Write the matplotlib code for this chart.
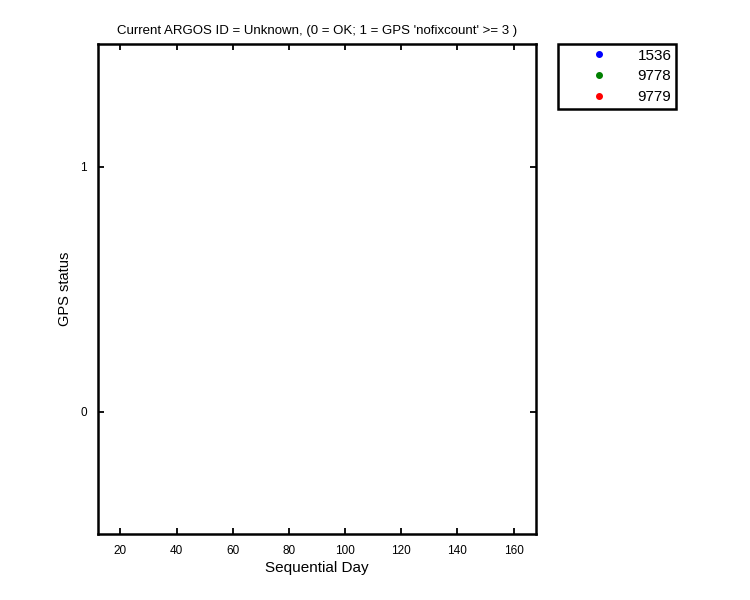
import numpy as np
import matplotlib
matplotlib.use("Agg")
import matplotlib.pyplot as plt

## DATA ##
# no GPS status records available for any tag -> empty series
tag_ids = ["1536", "9778", "9779"]
tag_colors = ["#0000ff", "#008000", "#ff0000"]
days = {t: [] for t in tag_ids}
status = {t: [] for t in tag_ids}

x_ticks = [20, 40, 60, 80, 100, 120, 140, 160]
y_ticks = [0, 1]

plt.rcParams["font.family"] = ["Liberation Sans", "DejaVu Sans"]

fig = plt.figure(figsize=(7.5, 6), dpi=100)
ax = fig.add_axes([98 / 750, 66 / 600, 438 / 750, 490 / 600])

for t, c in zip(tag_ids, tag_colors):
    ax.plot(days[t], status[t], ".", color=c, markersize=8, label=t)

ax.set_xlim(12, 168)
ax.set_ylim(-0.5, 1.5)
ax.set_xticks(x_ticks)
ax.set_yticks(y_ticks)
ax.tick_params(direction="in", length=4, width=1.3, top=True, right=True,
               labelsize=8.5, pad=8)
for s in ax.spines.values():
    s.set_linewidth(1.8)

ax.set_xlabel("Sequential Day", fontsize=11, labelpad=3)
ax.set_ylabel("GPS status", fontsize=10.5, labelpad=6)
ax.set_title("Current ARGOS ID = Unknown, (0 = OK; 1 = GPS 'nofixcount' >= 3 )",
             fontsize=9.5, pad=7)

leg = ax.legend(loc="upper left", bbox_to_anchor=(558 / 750, 556 / 600),
                bbox_transform=fig.transFigure, fancybox=False, framealpha=1,
                edgecolor="black", fontsize=11, handlelength=4.8,
                handletextpad=0.1, borderpad=0.3, labelspacing=0.45,
                borderaxespad=0)
leg.get_frame().set_linewidth(1.8)

fig.savefig("out.png", dpi=100)
